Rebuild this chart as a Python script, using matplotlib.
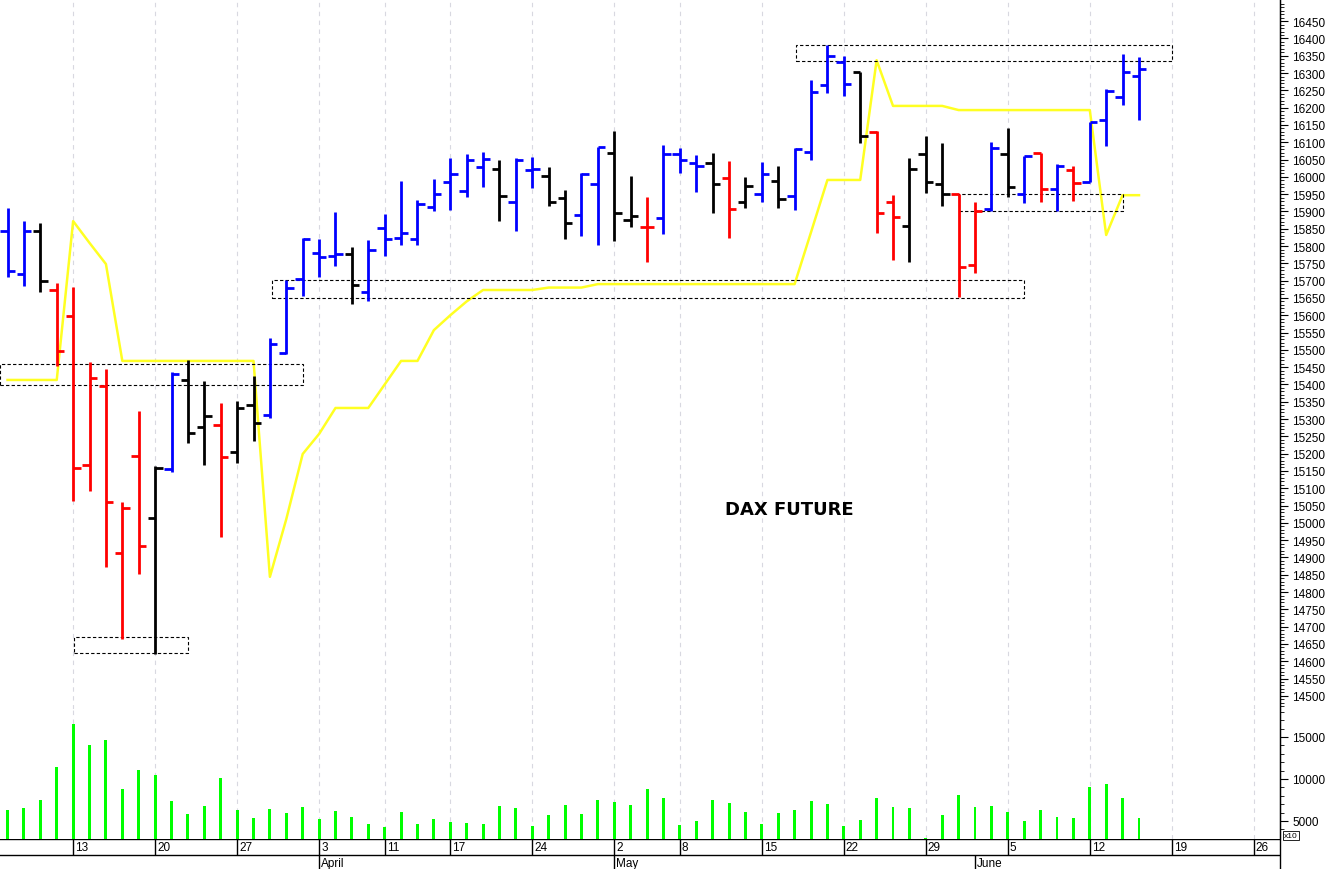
import matplotlib.pyplot as plt
import numpy as np

# daily OHLC, DAX future, Mar 7 - Jun 15 (70 trading days)
opens = [15843, 15719, 15843, 15673, 15598, 15167, 15396, 14913, 15193, 15014,
         15156, 15413, 15277, 15283, 15205, 15341, 15312, 15491, 15705, 15780,
         15771, 15777, 15667, 15852, 15823, 15820, 15913, 15985, 15959, 16028,
         16022, 15927, 16020, 16002, 15939, 15890, 15979, 16069, 15875, 15855,
         15881, 16066, 16040, 16040, 15996, 15927, 15950, 15988, 15944, 16072,
         16265, 16332, 16303, 16129, 15927, 15858, 16066, 15979, 15950, 15745,
         15907, 16066, 15950, 16069, 15965, 16020, 15985, 16164, 16230, 16291]
highs = [15910, 15872, 15866, 15693, 15682, 15465, 15445, 15060, 15323, 15164,
         15436, 15471, 15410, 15346, 15352, 15424, 15534, 15702, 15823, 15820,
         15898, 15797, 15817, 15892, 15988, 15933, 15994, 16054, 16066, 16072,
         16048, 16054, 16057, 16028, 15962, 16011, 16086, 16132, 16002, 15942,
         16092, 16083, 16063, 16069, 16046, 16000, 16043, 16031, 16083, 16280,
         16381, 16349, 16303, 16132, 15947, 16054, 16118, 16098, 15950, 15927,
         16101, 16141, 16060, 16069, 16037, 16031, 16158, 16254, 16355, 16346]
lows = [15710, 15684, 15667, 15453, 15063, 15092, 14873, 14665, 14852, 14621,
        15147, 15231, 15167, 14959, 15173, 15237, 15303, 15488, 15656, 15710,
        15742, 15632, 15641, 15771, 15803, 15803, 15901, 15904, 15942, 15970,
        15872, 15843, 15968, 15916, 15820, 15829, 15803, 15814, 15855, 15754,
        15835, 16011, 15956, 15895, 15823, 15910, 15927, 15910, 15904, 16048,
        16242, 16233, 16098, 15838, 15760, 15754, 15953, 15916, 15653, 15722,
        15901, 15942, 15924, 15927, 15901, 15930, 15985, 16089, 16207, 16164]
closes = [15728, 15843, 15699, 15497, 15159, 15419, 15060, 15043, 14933, 15159,
          15430, 15260, 15309, 15190, 15332, 15289, 15517, 15679, 15820, 15768,
          15777, 15687, 15788, 15820, 15837, 15921, 15950, 16008, 16048, 16051,
          15944, 16048, 16022, 15927, 15866, 16008, 16086, 15895, 15887, 15855,
          16066, 16048, 16031, 15979, 15907, 15973, 16008, 15936, 16080, 16245,
          16349, 16268, 16118, 15895, 15884, 16022, 15985, 15950, 15739, 15901,
          16083, 15970, 16060, 15965, 16031, 15982, 16158, 16248, 16303, 16311]
bar_colors = "bbkrrrrrrkbkkrkkbbbbbkbbbbbbbbkbbkkbbkkrbbbkrkbkbbbbkrrkkkrrbkbrbrbbbb"
volume = [6310, 6550, 7500, 11430, 16550, 14050, 14640, 8810, 11070, 10480,
          7380, 5830, 6790, 10120, 6310, 5360, 6430, 5950, 6670, 5240,
          6190, 5480, 4640, 4290, 6070, 4640, 5240, 4880, 4760, 4640,
          6790, 6550, 4400, 5710, 6900, 5830, 7500, 7260, 6900, 8810,
          7740, 4520, 5000, 7500, 7140, 6070, 4640, 5950, 6310, 7380,
          7020, 4400, 5120, 7740, 6670, 6550, 2980, 5710, 8100, 6670,
          6790, 6070, 5000, 6310, 5480, 5360, 9050, 9400, 7740, 5360]
stop_line = [15413, 15413, 15413, 15413, 15872, 15809, 15748, 15468, 15468, 15468,
             15468, 15468, 15468, 15468, 15468, 15468, 14844, 15011, 15199, 15257,
             15332, 15332, 15332, 15400, 15468, 15468, 15557, 15600, 15640, 15673,
             15673, 15673, 15673, 15680, 15680, 15680, 15690, 15690, 15690, 15690,
             15690, 15690, 15690, 15690, 15690, 15690, 15690, 15690, 15690, 15840,
             15991, 15991, 15991, 16337, 16205, 16205, 16205, 16205, 16193, 16193,
             16193, 16193, 16193, 16193, 16193, 16193, 16193, 15832, 15947, 15947]
# zones: (x from, x to, price low, price high)
zones = [(-0.46, 18.0, 15398, 15458), (4.05, 11.0, 14624, 14670),
         (16.1, 62.0, 15650, 15702), (48.1, 71.0, 16335, 16381),
         (58.0, 68.0, 15901, 15950)]
week_idx = [4, 9, 14, 19, 23, 27, 32, 37, 41, 46, 51, 56, 61, 66, 71, 76]
week_lbl = ["13", "20", "27", "3", "11", "17", "24", "2", "8", "15", "22", "29",
            "5", "12", "19", "26"]
month_idx = [19, 37, 59]
month_lbl = ["April", "May", "June"]

cmap = {"b": "#0000ff", "k": "#000000", "r": "#ff0000"}
plt.rcParams["font.family"] = ["Liberation Sans", "DejaVu Sans"]

fig = plt.figure(figsize=(13.28, 8.7), dpi=100)
W = 1280 / 1328
ax = fig.add_axes([0, 160 / 870, W, 710 / 870])
axv = fig.add_axes([0, 30 / 870, W, 130 / 870])

x = np.arange(len(opens))
xlim = (-0.46, 77.6)
for a in (ax, axv):
    a.set_xlim(*xlim)
    for w in week_idx:
        a.axvline(w, color="#d8d8e0", lw=0.8, ls=(0, (4, 4)), zorder=0)
    a.set_xticks([])
    for s in ("left", "top", "bottom"):
        a.spines[s].set_visible(False)

hw = 0.45
for i in x:
    c = cmap[bar_colors[i]]
    ax.vlines(i, lows[i], highs[i], color=c, lw=2.0, zorder=3)
    ax.hlines(opens[i], i - hw, i, color=c, lw=2.0, zorder=3)
    ax.hlines(closes[i], i, i + hw, color=c, lw=2.0, zorder=3)

ax.plot(x, stop_line, color="#ffff22", lw=1.8, zorder=2)
for x0, x1, lo, hi in zones:
    ax.add_patch(plt.Rectangle((x0, lo), x1 - x0, hi - lo, fill=False,
                               ec="black", lw=0.8, ls=(0, (3, 2)), zorder=2))
ax.text(47.7, 15040, "DAX FUTURE", fontsize=13, fontweight="bold",
        ha="center", va="center", family=["DejaVu Sans"])

ax.set_ylim(14462, 16514)
ax.yaxis.tick_right()
ax.set_yticks(np.arange(14500, 16451, 50))
ax.set_yticks(np.arange(14470, 16510, 10), minor=True)
ax.tick_params(axis="y", which="major", length=6, labelsize=8.5, pad=3)
ax.tick_params(axis="y", which="minor", length=3)

axv.bar(x, volume, width=0.18, color="#00ff00", zorder=3)
axv.set_ylim(2857, 18330)
axv.yaxis.tick_right()
axv.set_yticks([5000, 10000, 15000])
axv.set_yticks(np.arange(4000, 18001, 1000), minor=True)
axv.tick_params(axis="y", which="major", length=6, labelsize=8.5, pad=3)
axv.tick_params(axis="y", which="minor", length=3)
axv.text(1.003, 0.0, "x10", transform=axv.transAxes, fontsize=6,
         va="bottom", ha="left",
         bbox=dict(boxstyle="square,pad=0.15", fc="white", ec="black", lw=0.6))

# date axis strip
axd = fig.add_axes([0, 0, W, 30 / 870])
axd.set_xlim(*xlim)
axd.set_ylim(0, 30)
axd.axis("off")
axd.axhline(30, color="black", lw=1)
axd.axhline(14, color="black", lw=1)
for w, t in zip(week_idx, week_lbl):
    axd.vlines(w, 14, 30, color="black", lw=1)
    axd.text(w + 0.12, 22, t, fontsize=8.5, va="center", ha="left")
for m, t in zip(month_idx, month_lbl):
    axd.vlines(m, 0, 14, color="black", lw=1)
    axd.text(m + 0.12, 6, t, fontsize=8.5, va="center", ha="left")
fig.add_artist(plt.Line2D([W, W], [0, 1], color="black", lw=1))

fig.savefig("out.png", dpi=100)
